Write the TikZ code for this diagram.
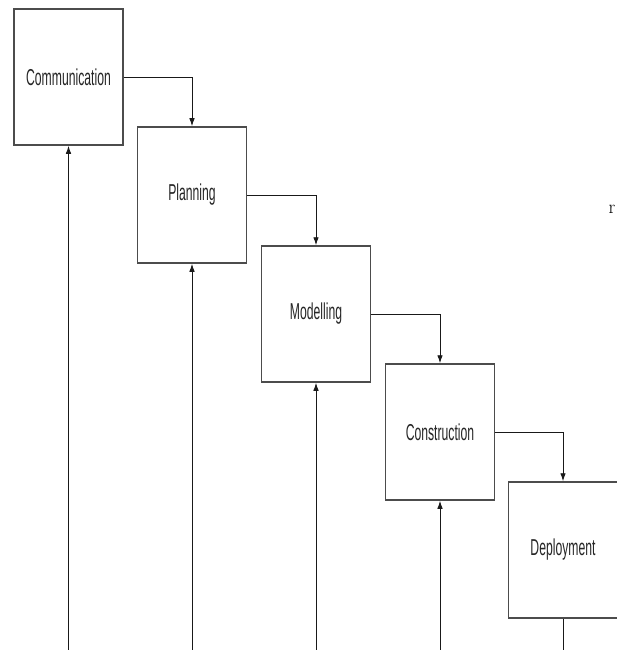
\documentclass[tikz,border=0pt]{standalone}
\usepackage{fontspec}
\newfontfamily\labfont[FakeStretch=0.53]{Liberation Sans}
\usetikzlibrary{arrows.meta}
\begin{document}
\begin{tikzpicture}[x=1pt,y=-1pt,
  phase/.style={draw=black!70, line width=1.5pt, fill=white, minimum width=109pt, minimum height=136pt, inner sep=0pt, font=\labfont\fontsize{23}{25}\selectfont, text=black!85},
  link/.style={draw=black!90, line width=0.9pt, -{Latex[length=8pt,width=5.5pt]}},
  plain/.style={draw=black!90, line width=0.9pt}]
\useasboundingbox (0,0) rectangle (617,650);
\fill[white] (0,0) rectangle (617,650);
\node[phase] (b1) at (68.5,77) {Communication};
\node[phase] (b2) at (192,195) {Planning};
\node[phase] (b3) at (316,314) {Modelling};
\node[phase] (b4) at (440,432) {Construction};
\node[phase] (b5) at (563,550) {Deployment};
\coordinate (f1) at (68.5,650);
\coordinate (f2) at (192,650);
\coordinate (f3) at (316,650);
\coordinate (f4) at (440,650);
\coordinate (f5) at (563,650);
\draw[link] (b1.east) -| (b2.north);
\draw[link] (b2.east) -| (b3.north);
\draw[link] (b3.east) -| (b4.north);
\draw[link] (b4.east) -| (b5.north);
\draw[link] (f1) -- (b1.south);
\draw[link] (f2) -- (b2.south);
\draw[link] (f3) -- (b3.south);
\draw[link] (f4) -- (b4.south);
\draw[plain] (b5.south) -- (f5);
\node[font=\fontsize{19}{21}\selectfont, inner sep=0pt] (r) at (612,209) {r};
\end{tikzpicture}
\end{document}
